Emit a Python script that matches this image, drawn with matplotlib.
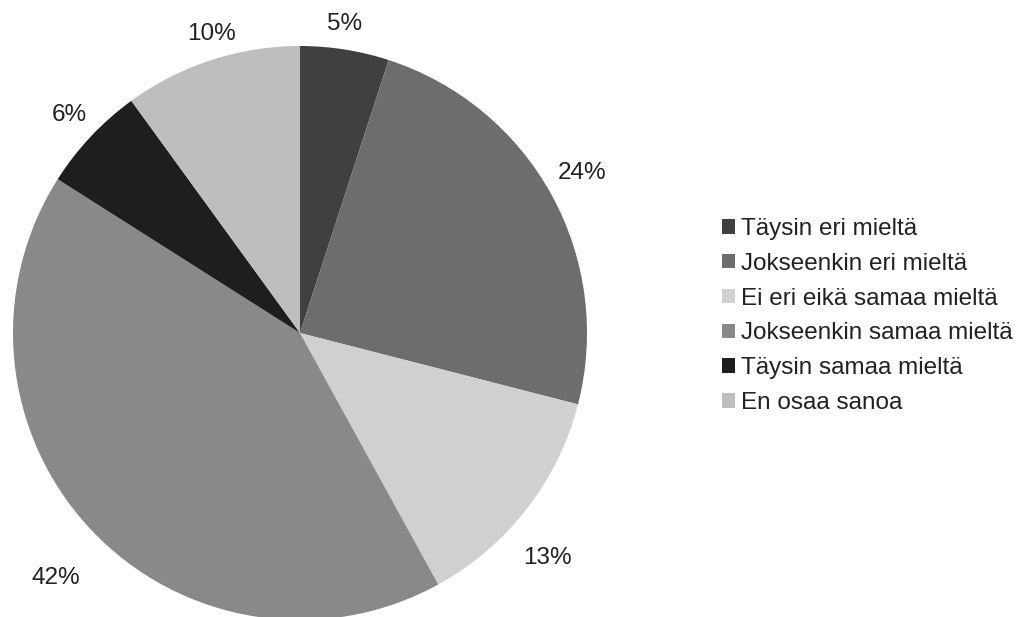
import matplotlib
matplotlib.use("Agg")
import numpy as np
import matplotlib.pyplot as plt
from matplotlib.patches import Patch

plt.rcParams["font.family"] = ["Liberation Sans", "DejaVu Sans"]

# Survey answers, share of respondents (%)
categories = [
    "Täysin eri mieltä",
    "Jokseenkin eri mieltä",
    "Ei eri eikä samaa mieltä",
    "Jokseenkin samaa mieltä",
    "Täysin samaa mieltä",
    "En osaa sanoa",
]
shares = [5, 24, 13, 42, 6, 10]
colors = ["#404040", "#6d6d6d", "#d0d0d0", "#898989", "#1e1e1e", "#bebebe"]

TEXT = "#222222"
FS = 17.5

fig = plt.figure(figsize=(10.28, 6.17), dpi=100)
ax = fig.add_axes([13 / 1028, -3 / 617, 574 / 1028, 574 / 617])

wedges, _ = ax.pie(
    shares,
    colors=colors,
    startangle=90,
    counterclock=False,
    wedgeprops={"linewidth": 0},
)
ax.set_aspect("equal")
ax.set_xlim(-1, 1)
ax.set_ylim(-1, 1)

# percentage labels just outside the rim, text box pushed away from the pie
for w, s in zip(wedges, shares):
    ang = np.deg2rad((w.theta1 + w.theta2) / 2)
    cx, cy = np.cos(ang), np.sin(ang)
    top = cy > 0
    side = abs(cx) >= 0.4
    if not side:
        ha, dx = "center", 0
    elif cx > 0:
        ha, dx = "left", (6 if top else -4)
    else:
        ha, dx = "right", (-4 if top else -11)
    if top:
        va, dy = "bottom", (11 if side else 15)
    else:
        va, dy = "top", -38
    ax.annotate(f"{s}%", xy=(cx, cy), xytext=(dx, dy), textcoords="offset pixels",
                ha=ha, va=va, fontsize=FS, color=TEXT, annotation_clip=False)

handles = [Patch(facecolor=c, edgecolor="none") for c in colors]
fig.legend(
    handles,
    categories,
    loc="center left",
    bbox_to_anchor=(700 / 1028, 1 - 316 / 617),
    frameon=False,
    fontsize=FS,
    handlelength=0.55,
    handleheight=0.55,
    handletextpad=0.22,
    labelspacing=0.53,
    labelcolor=TEXT,
)

fig.savefig("out.png", dpi=100)
